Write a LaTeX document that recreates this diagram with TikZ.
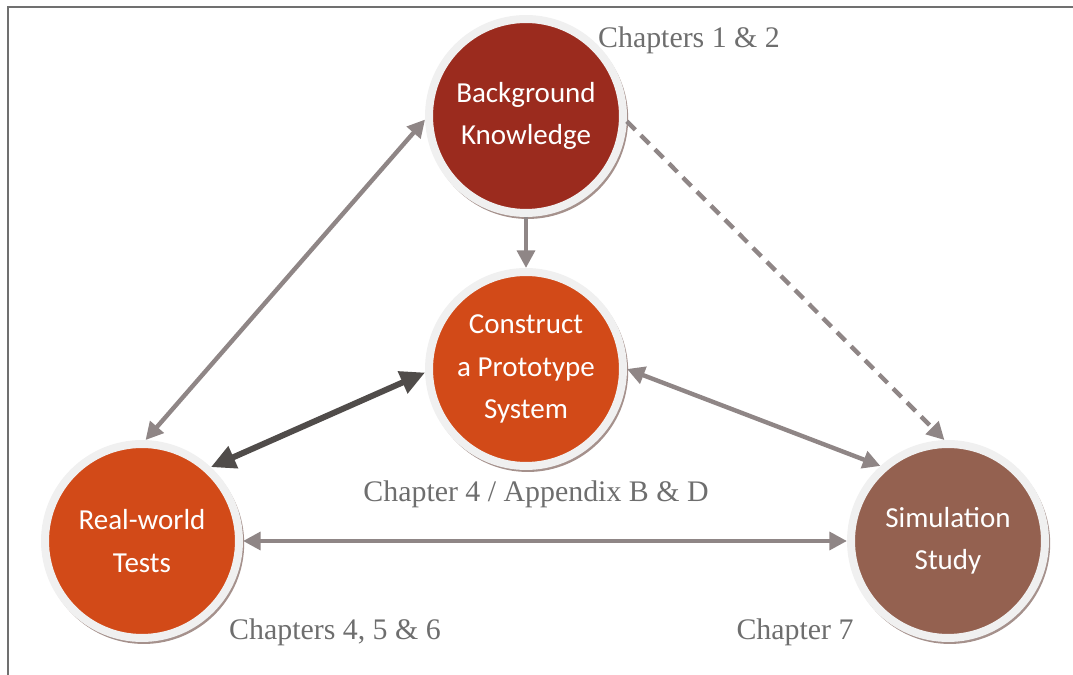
\documentclass[tikz,border=0pt]{standalone}
\usepackage{fontspec}
\setmainfont{Liberation Serif}
\newfontfamily\circfont{Carlito}
\usetikzlibrary{arrows.meta,shadows}
\definecolor{bgred}{RGB}{155,43,30}
\definecolor{orng}{RGB}{210,74,24}
\definecolor{simbrown}{RGB}{148,97,80}
\definecolor{ringgray}{RGB}{240,240,240}
\definecolor{shadowc}{RGB}{165,145,140}
\definecolor{linkgray}{RGB}{143,134,134}
\definecolor{darklink}{RGB}{80,76,74}
\definecolor{labelgray}{RGB}{110,110,110}
\definecolor{framegray}{RGB}{112,112,112}

\begin{document}
\begin{tikzpicture}[x=0.02cm,y=-0.02cm,
    phase/.style={circle,minimum size=3.88cm,inner sep=0pt,draw=ringgray,line width=0.16cm,
      text=white,align=center,font=\circfont\fontsize{16.5}{24}\selectfont,
      drop shadow={shadow scale=1.035,shadow xshift=0.035cm,shadow yshift=-0.05cm,fill=shadowc,opacity=1}},
    chap/.style={text=labelgray,font=\fontsize{17}{20}\selectfont},
    link/.style={draw=linkgray,line width=2.5pt,>={Triangle[length=10pt,width=10pt]}},
    strong/.style={draw=darklink,line width=3.4pt,>={Triangle[length=14pt,width=13pt]}}]
        \useasboundingbox (0,0) rectangle (1073,675);
        \draw[framegray,line width=0.04cm] (8,675) -- (8,7) -- (1073,7);
        % the four phases
        \node[phase,fill=bgred] (bg) at (526,116) {Background\\Knowledge};
        \node[phase,fill=orng] (proto) at (526,369) {Construct\\a Prototype\\System};
        \node[phase,fill=orng] (field) at (142,541) {Real-world\\Tests};
        \node[phase,fill=simbrown] (sim) at (948,541) {Simulation\\Study};
        % chapter labels
        \node[chap] (chbg) at (689,40) {Chapters 1 \& 2};
        \node[chap] (chproto) at (536,494) {Chapter 4 / Appendix B \& D};
        \node[chap] (chfield) at (335,632) {Chapters 4, 5 \& 6};
        \node[chap] (chsim) at (795,632) {Chapter 7};
        % links
        \draw[link,<->] (field.88) -- (bg.182);
        \draw[link,->] (bg.south) -- (proto.north);
        \draw[link,->,dash pattern=on 6.8pt off 4.5pt] (bg.-3) -- (sim.92);
        \draw[link,<->] (proto.0) -- (sim.132);
        \draw[link,<->] (field.east) -- (sim.west);
        \draw[strong,<->] (field.47) -- (proto.182);
    \end{tikzpicture}
\end{document}
